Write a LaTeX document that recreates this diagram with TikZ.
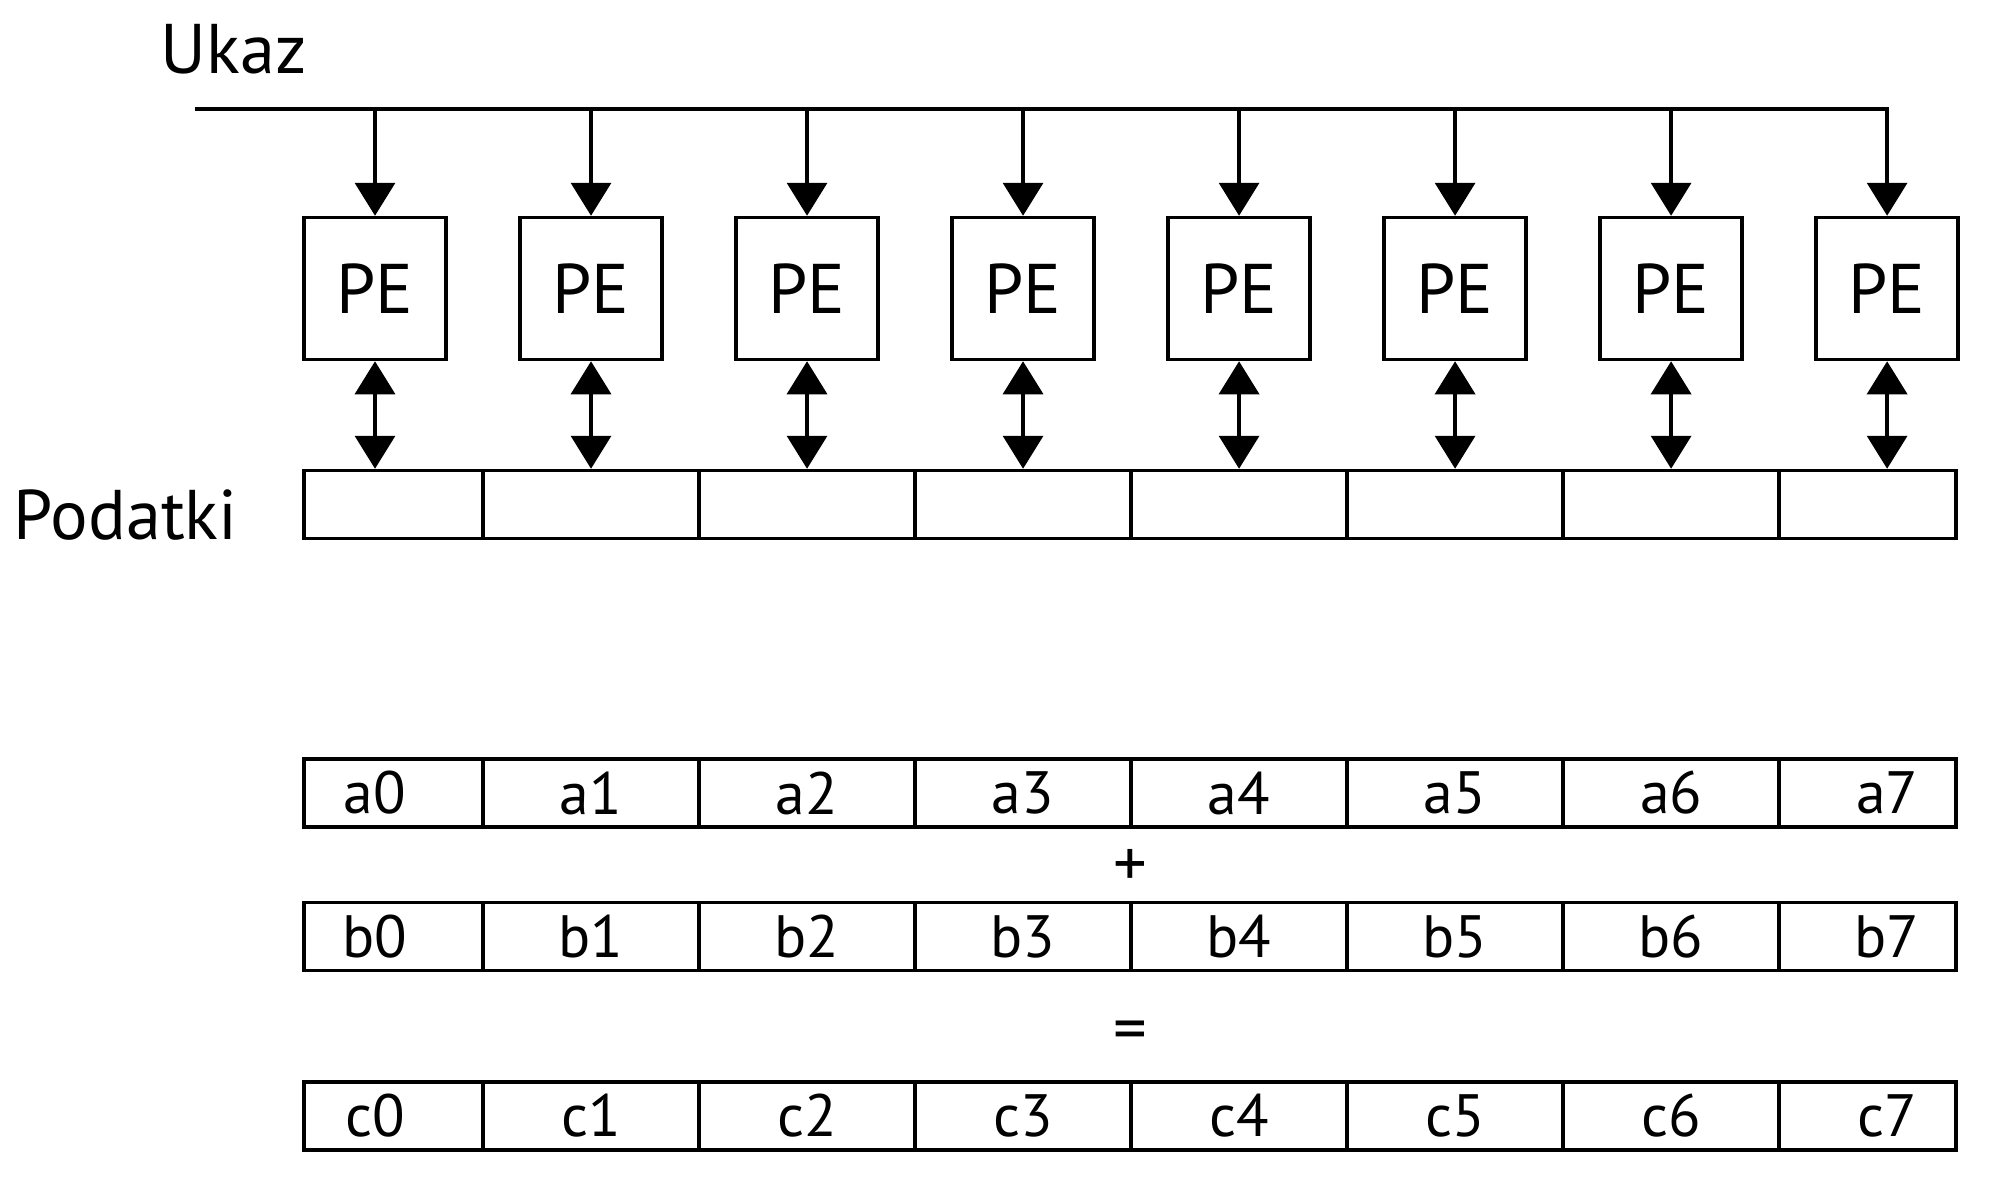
\documentclass[tikz,border=0pt]{standalone}
\usepackage{fontspec}
\setmainfont{PT Sans}
\usetikzlibrary{arrows.meta,positioning}

\begin{document}
\begin{tikzpicture}[node distance=0.705cm,
    pebox/.style={rectangle, draw, line width=1pt, minimum width=1.42cm, minimum height=1.42cm, font=\fontsize{20}{24}\selectfont},
    datarow/.style={rectangle, draw, line width=1pt, minimum width=16.52cm, minimum height=0.68cm, inner sep=0pt},
    cell/.style={font=\fontsize{17}{20}\selectfont, inner sep=0pt},
    sign/.style={font=\fontsize{19}{22}\selectfont, inner sep=0pt},
    heading/.style={font=\fontsize{20}{24}\selectfont, inner sep=0pt},
    arrow/.style={-{Triangle[length=0.33cm, width=0.40cm]}, line width=1pt},
    dblarrow/.style={{Triangle[length=0.33cm, width=0.40cm]}-{Triangle[length=0.33cm, width=0.40cm]}, line width=1pt}]

\useasboundingbox (0,0) rectangle (19.92,-11.88);

% processing elements
\node[pebox] (pe1) at (3.75,-2.885) {PE};
\foreach \i [remember=\i as \j (initially 1)] in {2,...,8}
  \node[pebox, right=of pe\j] (pe\i) {PE};

% memory and vectors
\node[datarow] (data) at (11.30,-5.045) {};
\node[datarow, below=2.17cm of data] (rowa) {};
\node[datarow, below=0.72cm of rowa] (rowb) {};
\node[datarow, below=1.08cm of rowb] (rowc) {};
\foreach \r in {data,rowa,rowb,rowc}
  \foreach \i in {1,...,7}
    \draw[line width=1pt] ({2.67+2.16*\i},0 |- \r.north) -- ({2.67+2.16*\i},0 |- \r.south);

\foreach \r/\l in {rowa/a,rowb/b,rowc/c}
  \foreach \i [count=\n from 0] in {1,...,8}
    \node[cell] (\l\n) at (pe\i |- \r) {\l\n};

\path (rowa.south) -- (rowb.north) node[sign, midway, yshift=-0.03cm] (plus) {+};
\path (rowb.south) -- (rowc.north) node[sign, midway, yshift=-0.1cm] (eq) {=};

\node[heading, anchor=base west] (ukaz) at (1.60,-0.73) {Ukaz};
\node[heading, anchor=base east] (podatki) at (2.38,-5.39) {Podatki};

% instruction bus
\coordinate (bus) at (1.95,-1.09);
\draw[arrow] (bus) -| (pe8.north);
\foreach \i in {1,...,7}
  \draw[arrow] (pe\i.north |- bus) -- (pe\i.north);
\foreach \i in {1,...,8}
  \draw[dblarrow] (pe\i.south) -- (pe\i.south |- data.north);

\end{tikzpicture}
\end{document}
